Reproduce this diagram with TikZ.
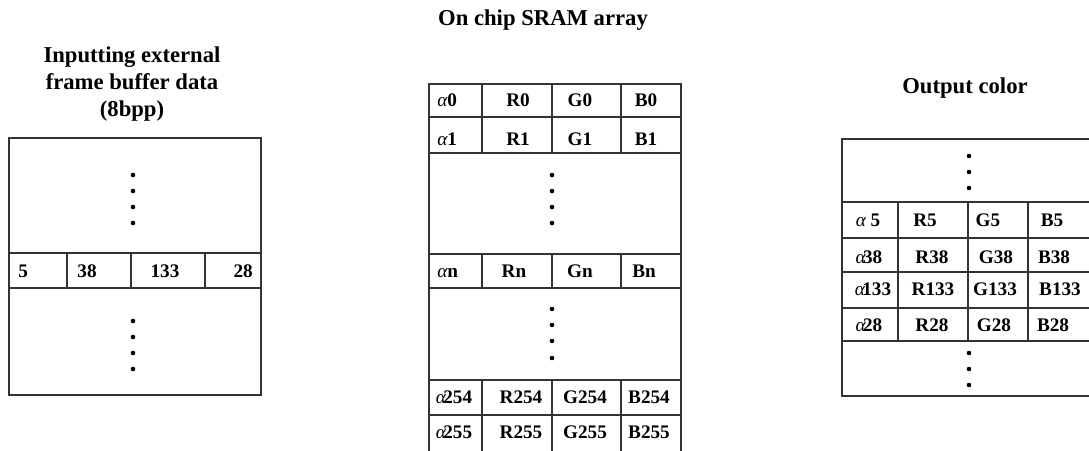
\documentclass[tikz,border=0pt]{standalone}
\usepackage{fontspec}
\setmainfont{Liberation Serif}
\begin{document}
\begin{tikzpicture}[x=0.75pt,y=-0.75pt,
  grid/.style={draw=black!80,line width=0.9pt},
  dot/.style={fill=black},
  title/.style={font=\fontsize{17}{20.25}\selectfont\bfseries,inner sep=0pt,align=center},
  cell/.style={font=\fontsize{14.4}{16}\selectfont\bfseries,inner sep=0pt,anchor=base},
  cellw/.style={cell,anchor=base west},
  celle/.style={cell,anchor=base east}]
\clip (0,0) rectangle (1089,450);
\useasboundingbox (0,0) rectangle (1089,450);
\newcommand{\al}{{\mdseries\itshape α}}
% titles
\node[title,anchor=north] (t1) at (132,47) {Inputting external\\frame buffer data\\(8bpp)};
\node[title,anchor=base] (t2) at (543,25) {On chip SRAM array};
\node[title,anchor=base] (t3) at (965,93) {Output color};
% ---- left box
\draw[grid] (9,138) rectangle (261,395);
\draw[grid] (9,253) -- (261,253) (9,288) -- (261,288);
\foreach \x in {67,131,205} \draw[grid] (\x,253) -- (\x,288);
\foreach \y in {175,191,207,223,321,337,353,369} \fill[dot] (133,\y) circle (2.3);
\node[cellw] (l1) at (18,277) {5};
\node[cell] (l2) at (87,277) {38};
\node[cell] (l3) at (165,277) {133};
\node[celle] (l4) at (253,277) {28};
% ---- middle table
\draw[grid] (429,460) -- (429,84) -- (681,84) -- (681,460);
\foreach \y in {117,153,254,288,380,415} \draw[grid] (429,\y) -- (681,\y);
\foreach \x in {482,552,621} {
  \draw[grid] (\x,84) -- (\x,153);
  \draw[grid] (\x,254) -- (\x,288);
  \draw[grid] (\x,380) -- (\x,460);
}
\foreach \y in {175,191,207,223,309,325,341,358} \fill[dot] (552,\y) circle (2.3);
\node[cellw] (m0a) at (437,106.5) {\al0};
\node[cell] (m0r) at (518,106.5) {R0};
\node[cell] (m0g) at (580,106.5) {G0};
\node[cell] (m0b) at (646,106.5) {B0};
\node[cellw] (m1a) at (437,145) {\al1};
\node[cell] (m1r) at (518,145) {R1};
\node[cell] (m1g) at (580,145) {G1};
\node[cell] (m1b) at (646,145) {B1};
\node[cellw] (mna) at (437,277) {\al n};
\node[cell] (mnr) at (514,277) {Rn};
\node[cell] (mng) at (580,277) {Gn};
\node[cell] (mnb) at (644,277) {Bn};
\node[cell] (m4a) at (454,403) {\al\kern-2pt 254};
\node[cell] (m4r) at (521,403) {R254};
\node[cell] (m4g) at (585,403) {G254};
\node[cell] (m4b) at (649,403) {B254};
\node[cell] (m5a) at (454,438) {\al\kern-2pt 255};
\node[cell] (m5r) at (521,438) {R255};
\node[cell] (m5g) at (585,438) {G255};
\node[cell] (m5b) at (649,438) {B255};
% ---- right table
\draw[grid] (1100,139) -- (842,139) -- (842,396) -- (1100,396);
\foreach \y in {202,238,272,308,341} \draw[grid] (842,\y) -- (1100,\y);
\foreach \x in {898,968,1028} \draw[grid] (\x,202) -- (\x,341);
\foreach \y in {156,172,188,353,369,385} \fill[dot] (969,\y) circle (2.3);
\node[cell] (r1a) at (868,226) {\al\ 5};
\node[cell] (r1r) at (925,226) {R5};
\node[cell] (r1g) at (988,226) {G5};
\node[cell] (r1b) at (1052,226) {B5};
\node[cell] (r2a) at (869,263) {\al\kern-2pt 38};
\node[cell] (r2r) at (932,263) {R38};
\node[cell] (r2g) at (996,263) {G38};
\node[cell] (r2b) at (1054,263) {B38};
\node[cell] (r3a) at (873,295) {\al\kern-2pt 133};
\node[cell] (r3r) at (933,295) {R133};
\node[cell] (r3g) at (995,295) {G133};
\node[cell] (r3b) at (1060,295) {B133};
\node[cell] (r4a) at (869,331) {\al\kern-2pt 28};
\node[cell] (r4r) at (932,331) {R28};
\node[cell] (r4g) at (994,331) {G28};
\node[cell] (r4b) at (1053,331) {B28};
\end{tikzpicture}
\end{document}
